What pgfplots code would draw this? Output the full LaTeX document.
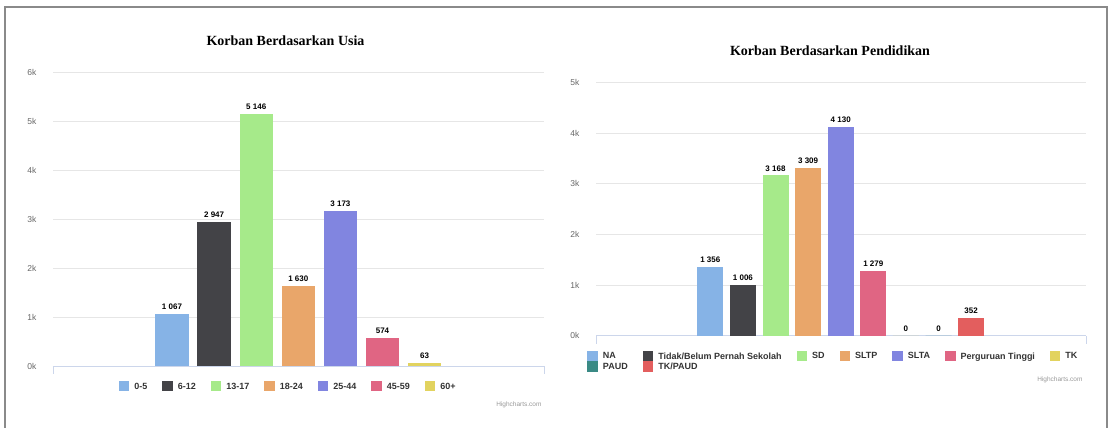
\documentclass[border=0pt]{standalone}
\usepackage{fontspec}
\setmainfont{Liberation Sans}
\newfontfamily\seriffont{Liberation Serif}
\usepackage{pgfplots}
\pgfplotsset{compat=1.18}
\definecolor{c1}{HTML}{86B3E6}
\definecolor{c2}{HTML}{434347}
\definecolor{c3}{HTML}{A6EA8A}
\definecolor{c4}{HTML}{E9A66A}
\definecolor{c5}{HTML}{8185E0}
\definecolor{c6}{HTML}{E06583}
\definecolor{c7}{HTML}{E2D35F}
\definecolor{c8}{HTML}{3A8A85}
\definecolor{c9}{HTML}{E35E5E}
\definecolor{gridgray}{HTML}{E6E6E6}
\definecolor{axisgray}{HTML}{CCD6EB}
\definecolor{ticktext}{HTML}{666666}
\definecolor{legtext}{HTML}{333333}
\definecolor{framegray}{HTML}{8A8A8A}
\pgfplotsset{
  hcbar/.style={fill=#1, draw=none, bar shift=0pt,
    legend image code/.code={\fill[fill=#1,draw=none] (0pt,-4.5pt) rectangle (10.5pt,6pt);}},
  hcaxis/.style={
    scale only axis, ybar, ymin=0,
    axis x line*=bottom, axis y line*=left,
    y axis line style={draw=none},
    x axis line style={draw=axisgray, line width=0.8pt, -},
    xtick style={draw=axisgray, line width=0.8pt},
    ytick style={draw=none},
    major tick length=8pt, tick align=outside,
    xticklabels={},
    ymajorgrids, grid style={gridgray, line width=0.8pt},
    y tick label style={font=\fontsize{8.5}{9}\selectfont, text=ticktext, xshift=-5pt},
    nodes near coords,
    nodes near coords style={font=\bfseries\fontsize{8}{9}\selectfont, text=black, inner sep=2pt, yshift=2pt},
    /pgf/number format/.cd, fixed, precision=0, 1000 sep={\ }, assume math mode=true, /pgfplots/.cd,
    legend cell align=left,
    legend style={draw=none, fill=none, font=\bfseries\fontsize{9}{10}\selectfont, text=legtext,
      nodes={inner ysep=0.5pt},
      /tikz/every even column/.append style={column sep=13pt},
      /tikz/every odd column/.append style={column sep=3pt}},
  },
}
\begin{document}
\begin{tikzpicture}
\useasboundingbox (0pt,0pt) rectangle (1111pt,428pt);
\draw[framegray, line width=1.6pt] (5pt,-10pt) -- (5pt,421pt) -- (1107pt,421pt) -- (1107pt,-10pt);
% left chart
\begin{axis}[hcaxis, at={(53pt,62pt)}, anchor=south west,
  width=491pt, height=294pt, xmin=0, xmax=491, ymax=6000,
  ytick={0,1000,2000,3000,4000,5000,6000},
  yticklabels={0k,1k,2k,3k,4k,5k,6k},
  xtick={0,491}, bar width=33.3,
  legend columns=7,
  legend style={at={(0.479,-0.068)}, anchor=center}]
\addplot[hcbar=c1] coordinates {(119.0,1067)}; \addlegendentry{0-5}
\addplot[hcbar=c2] coordinates {(161.1,2947)}; \addlegendentry{6-12}
\addplot[hcbar=c3] coordinates {(203.2,5146)}; \addlegendentry{13-17}
\addplot[hcbar=c4] coordinates {(245.3,1630)}; \addlegendentry{18-24}
\addplot[hcbar=c5] coordinates {(287.4,3173)}; \addlegendentry{25-44}
\addplot[hcbar=c6] coordinates {(329.5,574)}; \addlegendentry{45-59}
\addplot[hcbar=c7] coordinates {(371.6,63)}; \addlegendentry{60+}
\end{axis}
% right chart
\begin{axis}[hcaxis, at={(596pt,92.3pt)}, anchor=south west,
  width=490pt, height=253pt, xmin=0, xmax=490, ymax=5000,
  ytick={0,1000,2000,3000,4000,5000},
  yticklabels={0k,1k,2k,3k,4k,5k},
  xtick={0,490}, bar width=26,
  legend columns=7,
  legend style={at={(-0.024,-0.05)}, anchor=north west}]
\addplot[hcbar=c1] coordinates {(114.3,1356)}; \addlegendentry{NA}
\addplot[hcbar=c2] coordinates {(146.9,1006)}; \addlegendentry{Tidak/Belum Pernah Sekolah}
\addplot[hcbar=c3] coordinates {(179.5,3168)}; \addlegendentry{SD}
\addplot[hcbar=c4] coordinates {(212.1,3309)}; \addlegendentry{SLTP}
\addplot[hcbar=c5] coordinates {(244.7,4130)}; \addlegendentry{SLTA}
\addplot[hcbar=c6] coordinates {(277.3,1279)}; \addlegendentry{Perguruan Tinggi}
\addplot[hcbar=c7] coordinates {(309.9,0)}; \addlegendentry{TK}
\addplot[hcbar=c8] coordinates {(342.5,0)}; \addlegendentry{PAUD}
\addplot[hcbar=c9] coordinates {(375.1,352)}; \addlegendentry{TK/PAUD}
\end{axis}
\node[font=\seriffont\bfseries\fontsize{14}{16}\selectfont] at (285.5pt,387pt) {Korban Berdasarkan Usia};
\node[font=\seriffont\bfseries\fontsize{14}{16}\selectfont] at (830pt,377pt) {Korban Berdasarkan Pendidikan};
\node[font=\fontsize{6.5}{7}\selectfont, text=gray!80, anchor=east] at (545pt,23pt) {Highcharts.com};
\node[font=\fontsize{6.5}{7}\selectfont, text=gray!80, anchor=east] at (1086pt,48pt) {Highcharts.com};
\end{tikzpicture}
\end{document}
